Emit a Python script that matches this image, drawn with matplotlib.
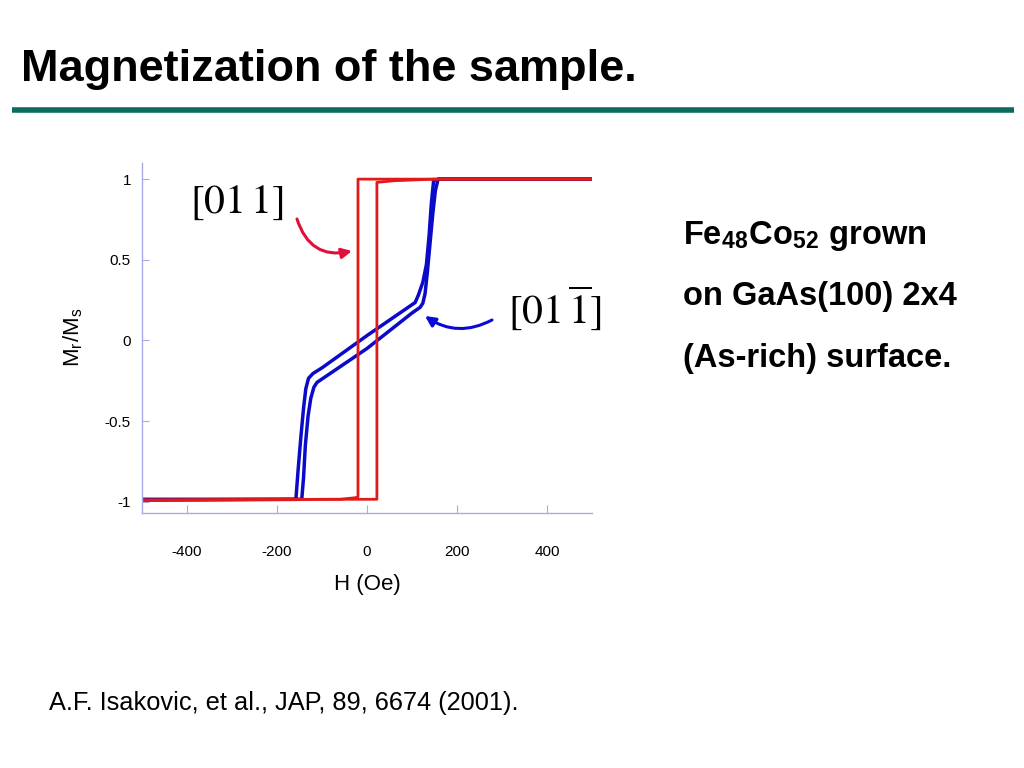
import matplotlib
matplotlib.use("Agg")
import matplotlib.pyplot as plt
from matplotlib.lines import Line2D

# ---- data ----
# [011] easy axis: square loop
red_desc_H = [500, 100, -20, -20, -25, -60, -500]
red_desc_M = [1.0, 1.0, 1.0, -0.97, -0.975, -0.985, -0.99]
red_asc_H = [-500, -100, 22, 22, 60, 150, 500]
red_asc_M = [-0.99, -0.985, -0.985, 0.98, 0.99, 1.0, 1.0]

# [01-1] axis: sheared loop
blue_desc_H = [500, 160, 148, 143, 138, 132, 124, 114, 107, 0, -100, -120,
               -130, -136, -141, -147, -153, -158, -500]
blue_desc_M = [1.0, 1.0, 0.99, 0.85, 0.65, 0.47, 0.36, 0.28, 0.235, 0.03,
               -0.17, -0.205, -0.235, -0.3, -0.42, -0.6, -0.8, -0.985, -0.985]
blue_asc_H = [-500, -145, -141, -137, -131, -125, -118, -111, 0, 100, 118,
              124, 129, 134, 140, 146, 152, 158, 500]
blue_asc_M = [-0.99, -0.985, -0.85, -0.65, -0.47, -0.36, -0.29, -0.26,
              -0.05, 0.17, 0.205, 0.23, 0.29, 0.42, 0.6, 0.78, 0.93, 1.0, 1.0]

x_ticks = [-400, -200, 0, 200, 400]
y_ticks = [-1, -0.5, 0, 0.5, 1]
y_ticklabels = ["-1", "-0.5", "0", "0.5", "1"]

W, Hpx = 1024, 768
fig = plt.figure(figsize=(W / 100, Hpx / 100), dpi=100)
plt.rcParams["mathtext.fontset"] = "stix"

def fx(px):
    return px / W

def fy(py):
    return 1 - py / Hpx

sans = ["Liberation Sans", "DejaVu Sans"]

# title and rule
fig.text(fx(21), fy(81), "Magnetization of the sample.",
         family=sans, fontsize=32.5, fontweight="bold", va="baseline", ha="left")
fig.add_artist(Line2D([fx(12), fx(1014)], [fy(110), fy(110)],
                      color="#0B6B5E", lw=4.0, solid_capstyle="butt",
                      transform=fig.transFigure))

# axes
ax = fig.add_axes([fx(142), fy(513), fx(592) - fx(142), fy(163) - fy(513)])
ax.plot(blue_desc_H, blue_desc_M, color="#0A0AC8", lw=2.5, solid_joinstyle="round")
ax.plot(blue_asc_H, blue_asc_M, color="#0A0AC8", lw=2.5, solid_joinstyle="round")
ax.plot(red_desc_H, red_desc_M, color="#E11B1B", lw=2.0)
ax.plot(red_asc_H, red_asc_M, color="#E11B1B", lw=2.0)

ax.set_xlim(-500, 500)
ax.set_ylim(-1.07, 1.10)
ax.set_xticks(x_ticks)
ax.set_xticklabels([str(v) for v in x_ticks])
ax.set_yticks(y_ticks)
ax.set_yticklabels(y_ticklabels)
for s in ["top", "right"]:
    ax.spines[s].set_visible(False)
for s in ["left", "bottom"]:
    ax.spines[s].set_color("#A9A9E6")
    ax.spines[s].set_linewidth(1.0)
ax.tick_params(axis="x", direction="in", length=6, color="#A9A9E6",
               labelsize=11, pad=23)
ax.tick_params(axis="y", direction="in", length=5, color="#A9A9E6",
               labelsize=11, pad=8)
for lab in ax.get_xticklabels() + ax.get_yticklabels():
    lab.set_family(sans)

fig.text(fx(367), fy(590), "H (Oe)", family=sans,
         fontsize=16, ha="center", va="baseline")
fig.text(fx(72), fy(337), r"M$_\mathregular{r}$/M$_\mathregular{s}$",
         family=sans, fontsize=16, rotation=90, ha="center", va="center")

fig.text(fx(237), fy(213), r"$[01\,1]$", fontsize=30, ha="center",
         va="baseline", color="black")
fig.text(fx(555), fy(323), r"$[01\,\overline{1}]$", fontsize=30,
         ha="center", va="baseline", color="black")

# arrows
ax.annotate("", xy=(fx(352), fy(251)), xycoords="figure fraction",
            xytext=(fx(297), fy(219)), textcoords="figure fraction",
            arrowprops=dict(arrowstyle="-|>,head_length=0.6,head_width=0.3",
                            color="#E0103A", lw=2.2,
                            connectionstyle="arc3,rad=0.45",
                            shrinkA=0, shrinkB=0))
ax.annotate("", xy=(fx(425), fy(316)), xycoords="figure fraction",
            xytext=(fx(492), fy(320)), textcoords="figure fraction",
            arrowprops=dict(arrowstyle="-|>,head_length=0.6,head_width=0.3",
                            color="#0A0AD8", lw=2.2,
                            connectionstyle="arc3,rad=-0.3",
                            shrinkA=0, shrinkB=0))

# side text
fig.text(fx(683), fy(244), r"Fe$_\mathregular{48}$Co$_\mathregular{52}$ grown",
         family=sans, fontsize=23.5, fontweight="bold", va="baseline")
fig.text(fx(683), fy(305), "on GaAs(100) 2x4", family=sans,
         fontsize=23.5, fontweight="bold", va="baseline")
fig.text(fx(683), fy(367), "(As-rich) surface.", family=sans,
         fontsize=23.5, fontweight="bold", va="baseline")

fig.text(fx(49), fy(710), "A.F. Isakovic, et al., JAP, 89, 6674 (2001).",
         family=sans, fontsize=18.3, va="baseline")

fig.savefig("out.png", dpi=100)
